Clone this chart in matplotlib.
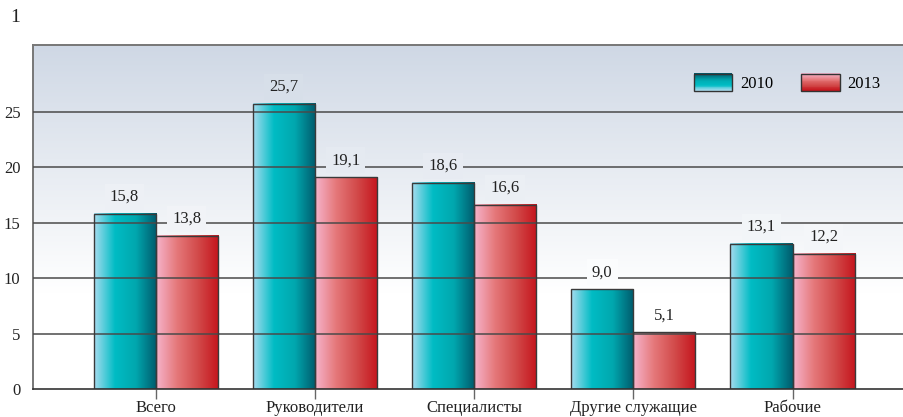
import numpy as np
import matplotlib
matplotlib.use("Agg")
import matplotlib.pyplot as plt
from matplotlib.colors import LinearSegmentedColormap
from matplotlib.patches import Rectangle
from matplotlib.legend_handler import HandlerBase

# ---------------------------------------------------------------------------
# Data
# ---------------------------------------------------------------------------
categories = ["Всего", "Руководители", "Специалисты", "Другие служащие", "Рабочие"]
series_names = ["2010", "2013"]
values_2010 = [15.8, 25.7, 18.6, 9.0, 13.1]
values_2013 = [13.8, 19.1, 16.6, 5.1, 12.2]
y_ticks = [0, 5, 10, 15, 20, 25]

# ---------------------------------------------------------------------------
# Styles
# ---------------------------------------------------------------------------
plt.rcParams["font.family"] = ["Liberation Serif", "DejaVu Serif"]

teal_cmap = LinearSegmentedColormap.from_list(
    "teal", ["#a6dcef", "#00bcc4", "#00a7ae", "#005a6c"])
red_cmap = LinearSegmentedColormap.from_list(
    "red", ["#f6b4cc", "#e5787a", "#d24a4a", "#c5141c"])
bg_cmap = LinearSegmentedColormap.from_list(
    "bg", [(0.0, "#ffffff"), (0.28, "#ffffff"), (1.0, "#cfd8e5")])

Y_TOP = 31.0
X_LEFT, X_RIGHT = -0.77, 4.70
BAR_W = 0.39


def bg_color(y):
    return bg_cmap(y / Y_TOP)


class GradientHandler(HandlerBase):
    """Legend key filled with a vertical colour gradient."""

    def __init__(self, cmap, reverse=False):
        super().__init__()
        self.cmap = cmap
        self.reverse = reverse

    def create_artists(self, legend, orig_handle, xdescent, ydescent,
                       width, height, fontsize, trans):
        n = 20
        arts = []
        for i in range(n):
            t = i / (n - 1)
            c = self.cmap(1 - t if self.reverse else t)
            arts.append(Rectangle((-xdescent, -ydescent + height * i / n),
                                  width, height / n + 0.2, facecolor=c,
                                  edgecolor="none", transform=trans))
        arts.append(Rectangle((-xdescent, -ydescent), width, height,
                              facecolor="none", edgecolor="#333333", lw=1.0,
                              transform=trans))
        return arts


fig = plt.figure(figsize=(9.04, 4.17), dpi=100)
ax = fig.add_axes([33 / 904, 1 - 389 / 417, 1 - 33 / 904, (389 - 45) / 417])
ax.set_xlim(X_LEFT, X_RIGHT)
ax.set_ylim(0, Y_TOP)

# background gradient
grad = np.linspace(0, 1, 256).reshape(-1, 1)
ax.imshow(grad, extent=[X_LEFT, X_RIGHT, 0, Y_TOP], origin="lower",
          aspect="auto", cmap=bg_cmap, zorder=0)

x = np.arange(len(categories))
hgrad = np.linspace(0, 1, 256).reshape(1, -1)

for vals, offset, cmap in ((values_2010, -BAR_W / 2, teal_cmap),
                           (values_2013, BAR_W / 2, red_cmap)):
    bars = ax.bar(x + offset, vals, BAR_W, facecolor="none",
                  edgecolor="#3a3a3a", lw=1.0, zorder=5)
    for b in bars:
        x0, w, h = b.get_x(), b.get_width(), b.get_height()
        ax.imshow(hgrad, extent=[x0, x0 + w, 0, h], aspect="auto",
                  cmap=cmap, zorder=2)
    for xi, v in zip(x + offset, vals):
        ax.text(xi, v + 0.8, f"{v:.1f}".replace(".", ","), ha="center",
                va="bottom", fontsize=12, color="#222222", zorder=6,
                bbox=dict(boxstyle="square,pad=0.3", fc=bg_color(v + 1.5),
                          ec="none"))

# grid lines over bars
for yt in y_ticks[1:]:
    ax.axhline(yt, color="#4a4a4a", lw=1.1, zorder=4)

ax.set_yticks(y_ticks)
ax.set_yticklabels([str(t) for t in y_ticks], fontsize=12)
ax.set_xticks(x)
ax.set_xticklabels(categories, fontsize=12)
ax.tick_params(axis="y", length=0, pad=9)
ax.tick_params(axis="x", length=7, width=1, color="#666666", pad=1,
               direction="out")
for lab in ax.get_xticklabels() + ax.get_yticklabels():
    lab.set_color("#222222")

for side in ("left", "top"):
    ax.spines[side].set_color("#777777")
    ax.spines[side].set_linewidth(1.4)
ax.spines["bottom"].set_color("#333333")
ax.spines["bottom"].set_linewidth(1.2)
ax.spines["bottom"].set_zorder(6)
ax.spines["right"].set_visible(False)

h1 = Rectangle((0, 0), 1, 1)
h2 = Rectangle((0, 0), 1, 1)
leg = ax.legend([h1, h2], series_names, ncol=2, frameon=False,
                loc="center right", bbox_to_anchor=(0.99, 0.89),
                fontsize=12, handlelength=2.3, handleheight=1.2,
                columnspacing=1.7, handletextpad=0.45,
                handler_map={h1: GradientHandler(teal_cmap),
                             h2: GradientHandler(red_cmap, reverse=True)})
leg.set_zorder(7)

fig.text(10 / 904, 1 - 18 / 417, "1", fontsize=14, ha="left", va="center",
         color="#222222")

fig.savefig("out.png", dpi=100)
